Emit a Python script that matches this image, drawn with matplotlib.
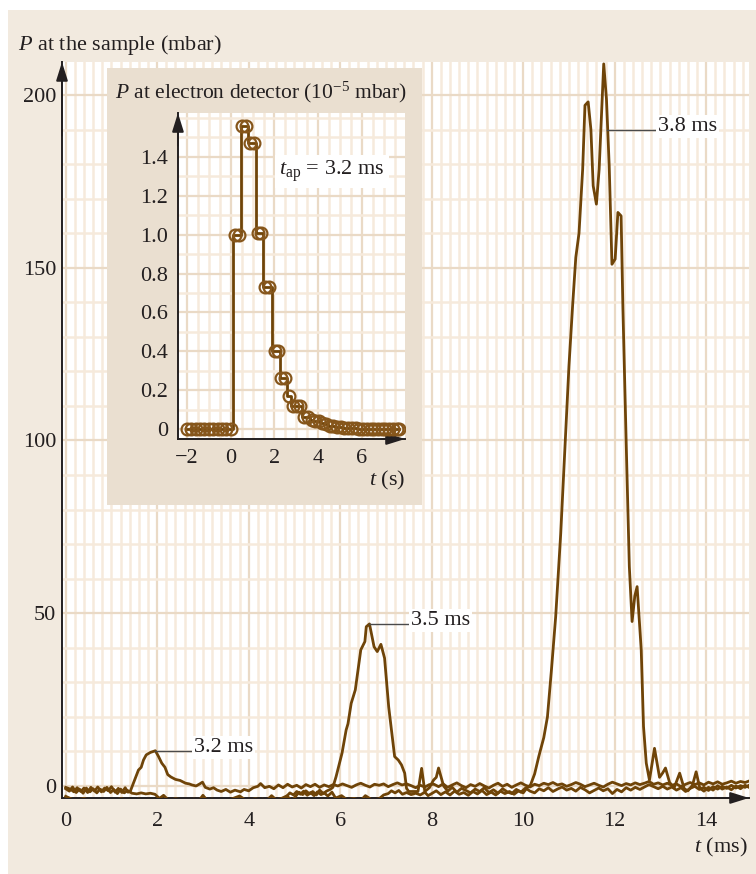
import matplotlib
matplotlib.use("Agg")
import matplotlib.pyplot as plt
from matplotlib.patches import Rectangle
from matplotlib.ticker import MultipleLocator

plt.rcParams['font.family'] = ['Liberation Serif', 'DejaVu Serif']
plt.rcParams['mathtext.fontset'] = 'custom'
plt.rcParams['mathtext.rm'] = 'Liberation Serif'
plt.rcParams['mathtext.it'] = 'Liberation Serif:italic'

# ---------------- data ----------------
# Pressure at the sample for three valve opening times (t in ms, P in mbar)
t_32 = [0.00, 0.10, 0.18, 0.25, 0.33, 0.40, 0.48, 0.55, 0.63, 0.70, 0.78, 0.85, 0.93, 1.00,
        1.08, 1.15, 1.23, 1.30, 1.36, 1.41, 1.50, 1.59, 1.65, 1.70, 1.76, 1.85, 1.96, 2.03,
        2.10, 2.17, 2.23, 2.30, 2.40, 2.50, 2.62, 2.70, 2.76, 2.85, 2.93, 2.99, 3.05, 3.15,
        3.23, 3.31, 3.40, 3.50, 3.60, 3.70, 3.82, 3.90, 4.00, 4.10, 4.20, 4.26, 4.35, 4.45,
        4.55, 4.65, 4.75, 4.85, 4.95, 5.05, 5.15, 5.25, 5.35, 5.45, 5.55, 5.65, 5.75, 5.85,
        5.95, 6.05, 6.15, 6.25, 6.35, 6.45, 6.55, 6.65, 6.75, 6.85, 6.95, 7.05, 7.15, 7.25,
        7.35, 7.45, 7.55, 7.65, 7.75, 7.85, 7.95, 8.05, 8.15, 8.25, 8.35, 8.45, 8.55, 8.65,
        8.75, 8.85, 8.95, 9.05, 9.15, 9.25, 9.35, 9.45, 9.55, 9.65, 9.75, 9.85, 9.95, 10.05,
        10.15, 10.25, 10.35, 10.45, 10.55, 10.65, 10.75, 10.85, 10.95, 11.05, 11.15, 11.25,
        11.35, 11.45, 11.55, 11.65, 11.75, 11.85, 11.95, 12.05, 12.15, 12.25, 12.35, 12.45,
        12.55, 12.65, 12.75, 12.85, 12.95, 13.05, 13.15, 13.25, 13.35, 13.45, 13.55, 13.65,
        13.75, 13.85, 13.95, 14.05, 14.15, 14.25, 14.35, 14.45, 14.55, 14.65, 14.75, 14.85,
        14.95]
p_32 = [-0.4, -0.9, -1.7, -0.5, -1.6, -0.6, -1.9, -0.4, -1.5, -0.3, -1.7, -0.6, -1.4, -0.2,
        -1.8, -0.7, -1.9, -0.5, -1.8, -1.6, 1.5, 4.6, 5.4, 7.5, 9.0, 9.7, 10.2, 8.5,
        6.6, 5.4, 3.3, 2.6, 1.9, 1.6, 0.8, 0.6, 0.3, 0.0, 0.6, 1.1, -0.4, -0.9,
        -0.5, -1.2, -1.6, -1.0, -1.8, -1.2, -1.7, -1.0, -1.4, -0.5, -0.1, 0.7, -0.5, -0.1,
        -0.8, 0.3, -0.5, 0.5, -0.3, 0.2, -0.6, 0.4, -0.2, 0.5, -0.4, 0.3, -0.2, 0.4,
        0.0, 0.6, 0.1, -0.4, 0.3, 0.8, 0.2, -0.3, 0.5, 0.2, 0.6, -0.2, 0.4, 0.9,
        0.3, 0.6, 0.1, -0.5, 0.2, -0.3, 0.4, 0.5, -0.2, 0.6, -0.4, 0.3, 0.9, 0.1,
        -0.5, 0.4, -0.1, 0.7, 0.0, -0.6, 0.2, 0.8, -0.1, 0.5, -0.4, 0.3, 0.9, 0.2,
        -0.3, 0.5, 0.1, 0.8, 0.4, 1.0, 0.3, 0.6, -0.1, 0.4, 1.0, 0.5,
        -0.2, 0.3, 0.8, 0.2, -0.3, 0.5, 1.1, 0.6, 0.1, 0.7, 0.3, 0.9,
        0.4, 0.8, 1.3, 0.5, 0.9, 0.3, 0.8, 0.2, 0.6, -0.2, 0.5, 1.0,
        0.4, 0.9, 0.3, 1.1, 0.6, 1.2, 0.5, 0.9, 1.4, 0.8, 1.3, 1.0,
        1.5]

t_35 = [0.00, 0.08, 0.15, 0.23, 0.30, 0.38, 0.45, 0.53, 0.60, 0.68, 0.75, 0.83, 0.90, 0.98,
        1.05, 1.13, 1.20, 1.28, 1.35, 1.45, 1.55, 1.65, 1.75, 1.85, 1.95, 2.05, 2.14, 2.22,
        2.35, 2.50, 2.65, 2.80, 2.92, 3.00, 3.08, 3.25, 3.40, 3.55, 3.70, 3.85, 4.00, 4.15,
        4.30, 4.40, 4.50, 4.60, 4.70, 4.83, 4.95, 5.10, 5.18, 5.25, 5.33, 5.40, 5.48, 5.55,
        5.63, 5.70, 5.78, 5.84, 5.91, 6.04, 6.13, 6.17, 6.24, 6.33, 6.39, 6.45, 6.54, 6.57,
        6.64, 6.74, 6.81, 6.89, 6.97, 7.06, 7.13, 7.19, 7.27, 7.34, 7.41, 7.45, 7.50, 7.60,
        7.70, 7.78, 7.85, 7.95, 8.04, 8.10, 8.15, 8.26, 8.35, 8.45, 8.55, 8.65, 8.75, 8.85,
        8.95, 9.05, 9.15, 9.25, 9.35, 9.45, 9.55, 9.65, 9.75, 9.85, 9.95, 10.05, 10.15, 10.25,
        10.35, 10.45, 10.55, 10.65, 10.75, 10.85, 10.95, 11.05, 11.15, 11.25, 11.35, 11.45,
        11.55, 11.65, 11.75, 11.85, 11.95, 12.05, 12.15, 12.25, 12.35, 12.45, 12.55, 12.65,
        12.75, 12.85, 12.95, 13.05, 13.15, 13.25, 13.35, 13.45, 13.55, 13.65, 13.75, 13.85,
        13.95, 14.05, 14.15, 14.25, 14.35, 14.45, 14.55, 14.65, 14.75, 14.85, 14.95]
p_35 = [-0.8, -1.5, -0.3, -1.9, -0.9, -2.1, -0.6, -1.7, -0.8, -2.0, -0.9, -1.6, -0.4, -1.9,
        -1.0, -2.2, -0.9, -2.0, -1.3, -2.1, -2.3, -2.0, -2.3, -2.1, -2.4, -3.6, -2.7, -3.8,
        -4.2, -3.9, -4.4, -3.8, -4.1, -2.7, -4.0, -4.5, -3.9, -4.3, -3.7, -4.2, -3.9, -4.4,
        -3.8, -4.1, -2.8, -4.0, -3.7, -2.9, -4.2, -1.8, -2.5, -1.4, -2.3, -1.6, -2.6, -1.2,
        -2.2, -1.5, -1.0, -0.4, 2.7, 9.5, 16.2, 18.0, 23.9, 27.8, 33.6, 39.4, 41.8, 46.1,
        46.9, 40.3, 38.9, 41.0, 37.0, 22.9, 15.2, 8.5, 7.5, 6.1, 3.7, -0.7, -1.6, -1.6,
        -1.6, 5.1, -1.6, -0.5, 1.7, 2.5, 5.2, 0.0, -1.5, -0.4, -1.8, -0.7, -1.3, -2.0,
        -0.9, -1.6, -0.5, -1.9, -1.1, -2.1, -0.8, -1.7, -2.2, -1.0, -1.8, -0.6, -1.5, -2.0,
        -0.8, -1.4, -0.5, -1.6, -0.9, -0.3, -1.2, -0.7, -1.5, -0.4, -1.1, -2.0,
        -1.3, -0.6, -1.4, -0.8, -2.2, -1.0, -1.7, -0.5, -1.2, -0.4, -1.0, -0.3,
        0.4, -0.2, -0.8, -0.1, -0.9, -0.3, -1.2, -0.5, -1.6, -0.7, -0.1, -1.0,
        -0.4, -1.3, -0.2, -0.9, -0.1, -0.7, 0.2, -0.6, 0.1, -0.4, 0.3]

t_38 = [0.00, 0.20, 0.40, 0.60, 0.80, 1.00, 1.20, 1.40, 1.60, 1.80, 2.00, 2.20, 2.40, 2.60,
        2.80, 3.00, 3.20, 3.40, 3.60, 3.80, 3.95, 4.15, 4.35, 4.55, 4.75, 4.90, 4.98, 5.05,
        5.13, 5.20, 5.28, 5.35, 5.43, 5.50, 5.58, 5.65, 5.73, 5.82, 5.90, 6.03, 6.15, 6.30,
        6.45, 6.55, 6.70, 6.85, 6.95, 7.05, 7.12, 7.20, 7.28, 7.36, 7.45, 7.55, 7.65, 7.75,
        7.85, 7.92, 8.00, 8.10, 8.20, 8.30, 8.40, 8.50, 8.60, 8.70, 8.80, 8.90, 9.00, 9.10,
        9.20, 9.30, 9.40, 9.50, 9.60, 9.70, 9.80, 9.90, 10.00, 10.08, 10.16, 10.25, 10.34,
        10.45, 10.53, 10.62, 10.71, 10.82, 10.92, 11.00, 11.08, 11.15, 11.22, 11.30, 11.35,
        11.42, 11.48, 11.53, 11.60, 11.66, 11.76, 11.82, 11.88, 11.94, 12.01, 12.07, 12.14,
        12.18, 12.25, 12.32, 12.38, 12.44, 12.49, 12.58, 12.63, 12.69, 12.76, 12.87, 12.98,
        13.05, 13.11, 13.20, 13.30, 13.42, 13.52, 13.60, 13.70, 13.78, 13.86, 13.95, 14.05,
        14.15, 14.25, 14.35, 14.45, 14.55, 14.65, 14.75, 14.85, 14.95]
p_38 = [-3.0, -4.2, -3.6, -4.5, -3.9, -4.3, -3.7, -4.1, -3.8, -4.4, -3.9, -4.3, -3.7, -4.2,
        -3.9, -4.4, -3.8, -4.3, -3.9, -2.9, -4.2, -3.7, -4.4, -3.8, -4.1, -2.0, -2.6, -1.6,
        -2.4, -1.5, -2.7, -1.9, -2.8, -1.7, -2.5, -2.0, -2.9, -1.8, -3.5, -2.8, -4.0, -3.6,
        -4.2, -2.8, -4.1, -3.7, -2.6, -2.2, -1.4, -2.0, -1.3, -2.4, -1.9, -2.5, -2.1, -2.6,
        -1.8, -2.8, -2.2, -1.4, -2.5, -1.7, -2.6, -1.5, -2.4, -1.9, -2.7, -1.6, -2.3, -1.3,
        -2.5, -1.8, -2.6, -1.5, -2.2, -1.6, -2.4, -1.4, -2.0, -0.6, 0.3, 3.5, 8.5,
        14.0, 20.0, 34.0, 49.0, 73.0, 100.0, 121.5, 139.0, 153.0, 160.0, 178.5, 197.0,
        198.0, 190.0, 173.7, 168.4, 178.5, 209.0, 198.8, 179.5, 151.0, 152.5, 166.0, 165.0,
        138.0, 100.0, 63.5, 47.6, 55.0, 57.7, 39.4, 17.2, 6.6, 1.7, 10.9, 2.5,
        3.8, 5.2, 1.0, -0.5, 3.7, -0.8, -1.4, 0.2, 4.1, -0.6, -1.5, -0.4,
        -1.2, 0.1, -0.9, -0.3, -1.1, 0.0, -0.8, 0.2, -0.5]

# Peak labels: label text, leader start time, leader level, leader end time
peak_labels = ["3.2 ms", "3.5 ms", "3.8 ms"]
label_t0 = [1.96, 6.62, 11.84]
label_p = [10.2, 47.0, 190.0]
label_t1 = [2.78, 7.52, 12.92]

# Pressure at the electron detector (t in s, P in 1e-5 mbar)
t_det = [-2.0, -1.8, -1.6, -1.4, -1.2, -1.0, -0.8, -0.6, -0.4, -0.2, 0.0,
         0.20, 0.37, 0.53, 0.68, 0.88, 1.05, 1.23, 1.40, 1.58, 1.75, 2.01, 2.18,
         2.31, 2.47, 2.66, 2.85, 3.02, 3.15, 3.36, 3.52, 3.70, 3.86, 4.02, 4.18,
         4.35, 4.52, 4.69, 4.86, 5.03, 5.20, 5.37, 5.54, 5.71, 5.88, 6.05, 6.22,
         6.39, 6.56, 6.73, 6.90, 7.07, 7.24, 7.41, 7.58, 7.70]
p_det = [0, 0, 0, 0, 0, 0, 0, 0, 0, 0, 0,
         1.00, 1.00, 1.56, 1.56, 1.47, 1.47, 1.01, 1.01, 0.73, 0.73, 0.40, 0.40,
         0.265, 0.265, 0.17, 0.12, 0.12, 0.12, 0.06, 0.06, 0.045, 0.04, 0.04, 0.03,
         0.025, 0.018, 0.014, 0.011, 0.009, 0.007, 0.005, 0.004, 0.003, 0.002, 0.002, 0.001,
         0.001, 0.001, 0.0, 0.0, 0.0, 0.0, 0.0, 0.0, 0.0]

main_xticks = [0, 2, 4, 6, 8, 10, 12, 14]
main_yticks = [0, 50, 100, 150, 200]
inset_xticks = [-2, 0, 2, 4, 6]
inset_yticks = [0, 0.2, 0.4, 0.6, 0.8, 1.0, 1.2, 1.4]
inset_yticklabels = ["0", "0.2", "0.4", "0.6", "0.8", "1.0", "1.2", "1.4"]

# ---------------- style ----------------
BROWN = "#6f4408"
MARKER_EDGE = "#86561b"
INK = "#231f20"
OUTER_BG = "#f2eadf"
INSET_BG = "#eadfd0"
GRID_MINOR = "#f6eadc"
GRID_MAJOR = "#eadac6"
FS = 16

fig = plt.figure(figsize=(7.56, 8.74), dpi=100, facecolor="white")
fig.add_artist(Rectangle((0.0106, 0.0), 0.9894, 0.9886, transform=fig.transFigure,
                         facecolor=OUTER_BG, edgecolor="none", zorder=-5))


def style_axes(ax, xminor, yminor, xpad, ypad):
    ax.set_facecolor("white")
    ax.xaxis.set_minor_locator(MultipleLocator(xminor))
    ax.yaxis.set_minor_locator(MultipleLocator(yminor))
    ax.grid(which="minor", color=GRID_MINOR, lw=1.8)
    ax.grid(which="major", color=GRID_MAJOR, lw=1.6)
    ax.set_axisbelow(True)
    for side in ("top", "right"):
        ax.spines[side].set_visible(False)
    for side in ("left", "bottom"):
        ax.spines[side].set_color(INK)
        ax.spines[side].set_linewidth(1.4)
    ax.tick_params(which="both", length=0, labelsize=FS, colors=INK)
    ax.tick_params(axis="x", pad=xpad)
    ax.tick_params(axis="y", pad=ypad)
    arrow = dict(arrowstyle="-|>,head_length=0.8,head_width=0.25", mutation_scale=14,
                 color=INK, lw=1.4, shrinkA=0, shrinkB=0)
    ax.annotate("", xy=(0, 1), xytext=(0, 0.9), xycoords="axes fraction",
                arrowprops=arrow, annotation_clip=False)
    ax.annotate("", xy=(1, 0), xytext=(0.9, 0), xycoords="axes fraction",
                arrowprops=arrow, annotation_clip=False)


# ---------------- main panel ----------------
ax = fig.add_axes([0.0820, 0.0870, 0.9087, 0.8421], zorder=0)
for t, p in ((t_32, p_32), (t_35, p_35), (t_38, p_38)):
    ax.plot(t, p, color=BROWN, lw=2.0, solid_joinstyle="round", zorder=3)
ax.set_xlim(-0.081, 14.935)
ax.set_ylim(-3.47, 209.55)
ax.set_xticks(main_xticks)
ax.set_yticks(main_yticks)
style_axes(ax, 0.2, 10, 10, 4)

for lab, t0, pl, t1 in zip(peak_labels, label_t0, label_p, label_t1):
    ax.plot([t0, t1], [pl, pl], color="#4a4a4a", lw=1.0, zorder=4)
    ax.text(t1 + 0.03, pl - 0.3, lab, ha="left", va="baseline", fontsize=FS, color=INK,
            zorder=5, bbox=dict(facecolor="white", edgecolor="none", pad=1.5))

fig.text(0.0238, 0.9485, r"$P$ at the sample (mbar)", ha="left", va="center",
         fontsize=FS, color=INK)
fig.text(0.9894, 0.0309, r"$t$ (ms)", ha="right", va="center", fontsize=FS, color=INK)

# ---------------- inset ----------------
fig.add_artist(Rectangle((0.1411, 0.4222), 0.4167, 0.4997, transform=fig.transFigure,
                         facecolor=INSET_BG, edgecolor="none", zorder=1))
axi = fig.add_axes([0.2354, 0.4977, 0.3003, 0.3730], zorder=2)
axi.plot(t_det, p_det, drawstyle="steps-mid", color=BROWN, lw=2.0, zorder=3)
axi.plot(t_det, p_det, ls="none", marker="o", ms=8.5, mfc="none", mec=MARKER_EDGE,
         mew=1.6, zorder=4)
axi.set_xlim(-2.41, 7.966)
axi.set_ylim(-0.0515, 1.626)
axi.set_xticks(inset_xticks)
axi.set_yticks(inset_yticks)
axi.set_yticklabels(inset_yticklabels)
style_axes(axi, 0.5, 0.1, 7, 7)
axi.text(2.2, 1.325, r"$t_{\mathrm{ap}}$ = 3.2 ms", ha="left", va="center", fontsize=FS,
         color=INK, zorder=5, bbox=dict(facecolor="white", edgecolor="none", pad=3))

fig.text(0.1521, 0.8947, r"$P$ at electron detector (10$^{-5}$ mbar)", ha="left",
         va="center", fontsize=15.5, color=INK, zorder=3)
fig.text(0.5357, 0.4497, r"$t$ (s)", ha="right", va="center", fontsize=FS, color=INK,
         zorder=3)

fig.savefig("out.png", dpi=100, facecolor="white")
